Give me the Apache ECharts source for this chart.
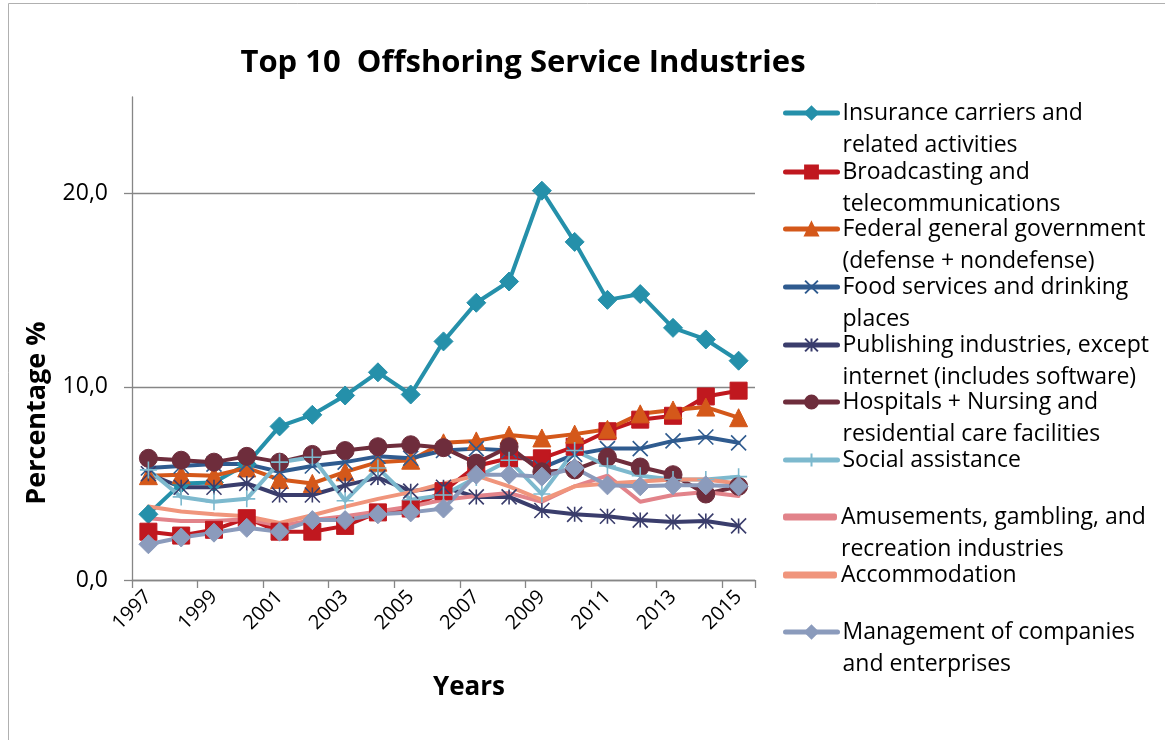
<!DOCTYPE html>
<html>
<head>
<meta charset="utf-8">
<script src="https://cdn.jsdelivr.net/npm/echarts@6/dist/echarts.min.js"></script>
<style>
  html, body { margin: 0; padding: 0; background: #ffffff; }
  #chart { width: 1165px; height: 740px; }
</style>
</head>
<body>
<div id="chart"></div>
<script>
// Years on the category axis
const years = ['1997','1998','1999','2000','2001','2002','2003','2004','2005','2006',
               '2007','2008','2009','2010','2011','2012','2013','2014','2015'];

// Offshoring share (%) per industry
const insurance     = [3.4, 5.0, 5.05, 6.0, 7.95, 8.55, 9.55, 10.75, 9.6, 12.35, 14.35, 15.45, 20.15, 17.5, 14.5, 14.8, 13.05, 12.45, 11.35];
const broadcasting  = [2.5, 2.3, 2.6, 3.2, 2.5, 2.5, 2.8, 3.5, 3.7, 4.6, 5.9, 6.3, 6.3, 6.9, 7.7, 8.3, 8.5, 9.5, 9.8];
const federal       = [5.4, 5.45, 5.4, 5.8, 5.2, 5.0, 5.6, 6.1, 6.2, 7.1, 7.2, 7.5, 7.35, 7.55, 7.8, 8.6, 8.8, 8.95, 8.4];
const foodServices  = [5.8, 5.9, 6.0, 6.0, 5.6, 5.9, 6.1, 6.4, 6.3, 6.7, 6.8, 6.7, 5.8, 6.5, 6.8, 6.8, 7.2, 7.4, 7.1];
const publishing    = [5.5, 4.8, 4.8, 5.0, 4.4, 4.4, 4.9, 5.3, 4.6, 4.8, 4.3, 4.3, 3.6, 3.4, 3.3, 3.1, 3.0, 3.05, 2.8];
const hospitals     = [6.3, 6.2, 6.1, 6.4, 6.1, 6.5, 6.7, 6.9, 7.0, 6.85, 6.05, 6.9, 5.6, 5.7, 6.35, 5.85, 5.45, 4.45, 4.85];
const social        = [5.7, 4.3, 4.05, 4.2, 6.1, 6.35, 4.1, 5.8, 4.15, 4.4, 5.3, 6.2, 4.45, 6.7, 5.9, 5.4, 5.2, 5.2, 5.35];
const amusements    = [3.2, 3.05, 3.05, 3.15, 2.8, 3.1, 3.3, 3.55, 3.8, 4.15, 4.35, 4.5, 4.05, 4.85, 5.4, 4.05, 4.4, 4.55, 4.35];
const accommodation = [3.8, 3.55, 3.4, 3.3, 2.95, 3.35, 3.8, 4.2, 4.55, 5.0, 5.4, 4.85, 4.15, 4.85, 5.0, 5.1, 5.2, 5.2, 5.0];
const management    = [1.85, 2.2, 2.45, 2.7, 2.5, 3.1, 3.1, 3.4, 3.5, 3.7, 5.45, 5.45, 5.35, 5.8, 4.9, 4.85, 4.9, 4.9, 4.85];

// Legend labels (wrapped as in the legend box)
const seriesNames = [
  'Insurance carriers and\nrelated activities',
  'Broadcasting and\ntelecommunications',
  'Federal general government\n(defense + nondefense)',
  'Food services and drinking\nplaces',
  'Publishing industries, except\ninternet (includes software)',
  'Hospitals + Nursing and\nresidential care facilities',
  'Social assistance',
  'Amusements, gambling, and\nrecreation industries',
  'Accommodation',
  'Management of companies\nand enterprises'
];
const seriesData = [insurance, broadcasting, federal, foodServices, publishing,
                    hospitals, social, amusements, accommodation, management];
const seriesColors = ['#2590AA', '#C0181F', '#D4581A', '#2F5B8F', '#3A3D6C',
                      '#6E2D3C', '#7DB9CE', '#E2838A', '#F0957C', '#8B9BBC'];

const FONT = '"Open Sans"';

// Marker shapes
const X_PATH = 'path://M0,0 L10,10 M0,10 L10,0';
const STAR_PATH = 'path://M0,0 L10,10 M0,10 L10,0 M5,0 L5,10';
const PLUS_PATH = 'path://M5,0 L5,10 M0,5 L10,5';
const symbols = [
  { symbol: 'diamond', size: 19 },
  { symbol: 'rect', size: 17 },
  { symbol: 'triangle', size: 18 },
  { symbol: X_PATH, size: 15, stroke: true },
  { symbol: STAR_PATH, size: 15, stroke: true },
  { symbol: 'circle', size: 18 },
  { symbol: PLUS_PATH, size: 17, stroke: true },
  { symbol: 'none', size: 0 },
  { symbol: 'none', size: 0 },
  { symbol: 'diamond', size: 19 }
];

const series = seriesNames.map((name, i) => {
  const s = symbols[i];
  return {
    name: name,
    type: 'line',
    data: seriesData[i],
    symbol: s.symbol,
    symbolSize: s.size,
    showSymbol: s.symbol !== 'none',
    lineStyle: { width: 4, color: seriesColors[i], cap: 'round', join: 'round' },
    itemStyle: s.stroke
      ? { color: seriesColors[i], borderColor: seriesColors[i], borderWidth: 1.6 }
      : { color: seriesColors[i], borderColor: seriesColors[i], borderWidth: 1 },
    emphasis: { disabled: true },
    animation: false
  };
});

// One legend block per industry, stacked down the right side.
// A leading blank line keeps the first text line level with the key.
const legendCenters = [111, 170, 227, 285, 343, 400, 458, 515, 573, 630];
const legends = seriesNames.map((name, i) => {
  const twoLines = name.indexOf('\n') >= 0;
  const plain = symbols[i].symbol === 'none';
  const item = plain ? { name: name, icon: 'roundRect' } : { name: name };
  return {
    data: [item],
    left: 783,
    top: legendCenters[i] - (twoLines ? 46 : 14),
    padding: 0,
    itemWidth: 52,
    itemHeight: plain ? 5 : 16,
    selectedMode: false,
    lineStyle: { width: 5, cap: 'round' },
    formatter: n => (n.indexOf('\n') >= 0 ? ' \n' + n : n),
    textStyle: { fontFamily: FONT, fontSize: 23, color: '#000', lineHeight: 32 }
  };
});

const chart = echarts.init(document.getElementById('chart'), null, { renderer: 'canvas' });
chart.setOption({
  backgroundColor: '#ffffff',
  animation: false,
  grid: { left: 132, right: 410, top: 97, bottom: 160, containLabel: false },
  legend: legends,
  xAxis: {
    type: 'category',
    data: years,
    boundaryGap: true,
    axisLine: { lineStyle: { color: '#868686', width: 1.3 } },
    axisTick: { show: true, interval: 1, length: 8, lineStyle: { color: '#868686', width: 1.3 } },
    axisLabel: { interval: 1, rotate: 45, fontFamily: FONT, fontSize: 20, color: '#000', margin: 14 },
    splitLine: { show: false }
  },
  yAxis: {
    type: 'value',
    min: 0, max: 25, interval: 10,
    axisLine: { show: true, lineStyle: { color: '#868686', width: 1.3 } },
    axisTick: { show: true, length: 8, lineStyle: { color: '#868686', width: 1.3 } },
    axisLabel: {
      fontFamily: FONT, fontSize: 23, color: '#000', margin: 24, showMaxLabel: false,
      formatter: v => v.toFixed(1).replace('.', ',')
    },
    splitLine: { show: true, showMaxLine: false, lineStyle: { color: '#868686', width: 1.3 } }
  },
  graphic: [
    { type: 'rect', shape: { x: 8.5, y: 3.5, width: 1160, height: 760 }, style: { fill: 'none', stroke: '#b0b0b0', lineWidth: 1 }, silent: true },
    { type: 'text', x: 523, y: 63, style: { text: 'Top 10  Offshoring Service Industries', font: 'bold 31px ' + FONT, fill: '#000', align: 'center', verticalAlign: 'middle' } },
    { type: 'text', x: 37, y: 413, rotation: Math.PI / 2, style: { text: 'Percentage %', font: 'bold 27px ' + FONT, fill: '#000', align: 'center', verticalAlign: 'middle' } },
    { type: 'text', x: 469, y: 688, style: { text: 'Years', font: 'bold 26px ' + FONT, fill: '#000', align: 'center', verticalAlign: 'middle' } }
  ],
  series: series
});
</script>
</body>
</html>
